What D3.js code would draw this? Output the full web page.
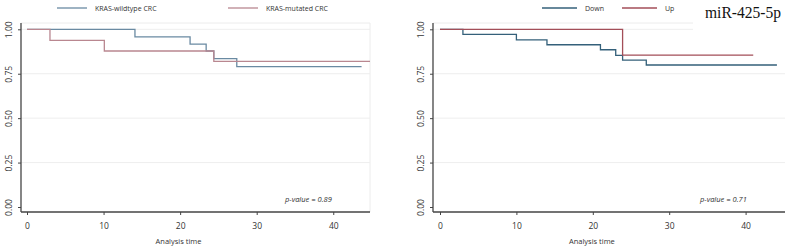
<!DOCTYPE html>
<html><head><meta charset="utf-8">
<script src="https://cdn.jsdelivr.net/npm/d3@7"></script>
<style>body{margin:0;background:#fff}svg{display:block}</style>
</head><body>
<svg id="c" width="785" height="246"></svg>
<script>
// Data
const yTicks = [0, 0.25, 0.5, 0.75, 1];
const xTicks = [0, 10, 20, 30, 40];
const leftNames = ["KRAS-wildtype CRC", "KRAS-mutated CRC"];
const wildTimes = [0, 14.1, 21.3, 23.4, 24.4, 27.4, 43.7];
const wildSurv  = [1, 0.957, 0.917, 0.878, 0.835, 0.79, 0.79];
const mutTimes  = [0, 3, 10.1, 24.4, 44.8];
const mutSurv   = [1, 0.938, 0.878, 0.82, 0.82];
const rightNames = ["Down", "Up"];
const downTimes = [0, 3, 10, 14, 21, 23, 23.9, 27, 44.1];
const downSurv  = [1, 0.972, 0.941, 0.913, 0.885, 0.853, 0.827, 0.799, 0.799];
const upTimes   = [0, 23.9, 41];
const upSurv    = [1, 0.855, 0.855];
const pLeft = "p-value = 0.89";
const pRight = "p-value = 0.71";
const title = "miR-425-5p";

const svg = d3.select("#c");
const font = "'Open Sans', 'Liberation Sans', sans-serif";

function panel(cfg) {
  const g = svg.append("g");
  const x = d3.scaleLinear().domain([0, cfg.xmax]).range([cfg.x0, cfg.x1]);
  const y = d3.scaleLinear().domain([0, 1]).range([207, 29.3]);
  g.append("line").attr("x1", cfg.axisX).attr("x2", cfg.frameR).attr("y1", 23).attr("y2", 23)
    .attr("stroke", "#ececec").attr("stroke-width", 1);
  g.append("line").attr("x1", cfg.frameR).attr("x2", cfg.frameR).attr("y1", 23).attr("y2", 212)
    .attr("stroke", "#ececec").attr("stroke-width", 1);
  g.selectAll(".grid").data(yTicks.filter(d => d > 0)).join("line")
    .attr("x1", cfg.axisX).attr("x2", cfg.frameR)
    .attr("y1", d => y(d)).attr("y2", d => y(d))
    .attr("stroke", "#eeeeee").attr("stroke-width", 1);
  const ya = g.append("g").attr("transform", `translate(${cfg.axisX},0)`)
    .call(d3.axisLeft(y).tickValues(yTicks).tickFormat(d3.format(".2f")).tickSize(3).tickSizeOuter(0));
  ya.select(".domain").attr("d", `M0,23V212`).attr("stroke", "#444").attr("stroke-width", 1.3);
  ya.selectAll(".tick line").attr("stroke", "#444");
  ya.selectAll(".tick text").attr("font-family", font).attr("font-size", 8.5).attr("fill", "#333")
    .attr("transform", "rotate(-90)").attr("text-anchor", "middle").attr("x", 0).attr("y", -9).attr("dy", 0);
  const xa = g.append("g").attr("transform", `translate(0,212)`)
    .call(d3.axisBottom(x).tickValues(xTicks).tickSize(3).tickSizeOuter(0));
  xa.select(".domain").attr("d", `M${cfg.axisX},0H${cfg.axisR}`).attr("stroke", "#444").attr("stroke-width", 1.3);
  xa.selectAll(".tick line").attr("stroke", "#444");
  xa.selectAll(".tick text").attr("font-family", font).attr("font-size", 8.5).attr("fill", "#333").attr("y", 11);
  g.append("text").attr("x", (cfg.x0 + cfg.x1) / 2 - 20).attr("y", 244).attr("text-anchor", "middle")
    .attr("font-family", font).attr("font-size", 7.5).attr("fill", "#333").text("Analysis time");
  const line = d3.line().x(d => x(d[0])).y(d => y(d[1])).curve(d3.curveStepAfter);
  cfg.series.forEach(s => {
    g.append("path").datum(d3.zip(s.t, s.s)).attr("d", line)
      .attr("fill", "none").attr("stroke", s.color).attr("stroke-width", 1.3);
  });
  g.append("text").attr("x", cfg.pX).attr("y", 202).attr("font-family", font).attr("font-style", "italic")
    .attr("font-size", 7.5).attr("fill", "#333").text(cfg.p);
  cfg.series.forEach((s, i) => {
    g.append("line").attr("x1", cfg.leg[i]).attr("x2", cfg.leg[i] + cfg.legLen).attr("y1", 8).attr("y2", 8)
      .attr("stroke", s.color).attr("stroke-width", 1.3);
    g.append("text").attr("x", cfg.leg[i] + cfg.legLen + cfg.legGap).attr("y", 10.5)
      .attr("font-family", font).attr("font-size", 7).attr("fill", "#333").text(s.name);
  });
}

panel({
  xmax: 44.8, x0: 27, x1: 370, axisX: 21, axisR: 370, frameR: 370, pX: 285, p: pLeft,
  leg: [57, 228], legLen: 30, legGap: 8,
  series: [
    {name: leftNames[0], t: wildTimes, s: wildSurv, color: "#6a8aa2"},
    {name: leftNames[1], t: mutTimes, s: mutSurv, color: "#b98790"}
  ]
});
panel({
  xmax: 45, x0: 440, x1: 783.8, axisX: 433, axisR: 785, frameR: 790, pX: 700, p: pRight,
  leg: [542, 622], legLen: 35, legGap: 8,
  series: [
    {name: rightNames[0], t: downTimes, s: downSurv, color: "#34607a"},
    {name: rightNames[1], t: upTimes, s: upSurv, color: "#a34e58"}
  ]
});
svg.append("rect").attr("x", 693).attr("y", 0).attr("width", 92).attr("height", 30).attr("fill", "#fff");
svg.append("text").attr("x", 705).attr("y", 18).attr("font-family", "'Liberation Serif', 'Times New Roman', serif")
  .attr("font-size", 16).attr("textLength", 76).attr("lengthAdjust", "spacingAndGlyphs")
  .attr("fill", "#111").text(title);
</script>
</body></html>
